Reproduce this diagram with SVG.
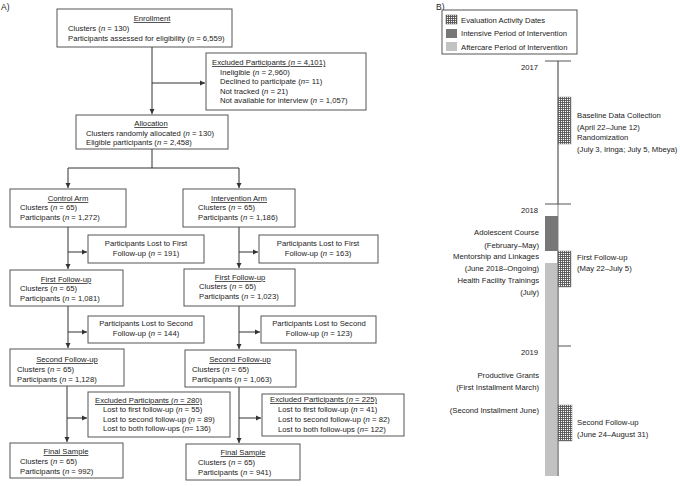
<svg xmlns="http://www.w3.org/2000/svg" width="680" height="486" viewBox="0 0 680 486">
<style>
text{font-family:"Liberation Sans",Arial,sans-serif;font-size:7.7px;fill:#222}
.c{text-anchor:middle}
.r{text-anchor:end}
.u{text-decoration:underline}
.i{font-style:italic}
.box{fill:#fff;stroke:#555;stroke-width:1}
.con{fill:none;stroke:#333;stroke-width:1}
.lab{font-size:8.5px}
</style>
<defs>
<marker id="ah" markerWidth="6" markerHeight="6" refX="5" refY="3" orient="auto" markerUnits="userSpaceOnUse">
<path d="M0,0.5 L5,3 L0,5.5 Z" fill="#333"/>
</marker>
<pattern id="grid" width="2" height="2" patternUnits="userSpaceOnUse">
<rect width="2" height="2" fill="#fff"/>
<path d="M0 0.5H2M0.5 0V2" stroke="#555" stroke-width="0.9"/>
</pattern>
</defs>
<rect width="680" height="486" fill="#fff"/>
<text class="lab" x="1" y="10">A)</text>
<text class="lab" x="436" y="10">B)</text>

<g id="connectors">
<path class="con" d="M152 47V114" marker-end="url(#ah)"/>
<path class="con" d="M152 83H205" marker-end="url(#ah)"/>
<path class="con" d="M152 149V168M68 168H239"/>
<path class="con" d="M68 168V188" marker-end="url(#ah)"/>
<path class="con" d="M239 168V188" marker-end="url(#ah)"/>
<path class="con" d="M68 227V269" marker-end="url(#ah)"/>
<path class="con" d="M68 252H87" marker-end="url(#ah)"/>
<path class="con" d="M239 227V268" marker-end="url(#ah)"/>
<path class="con" d="M239 252H258" marker-end="url(#ah)"/>
<path class="con" d="M68 306V348" marker-end="url(#ah)"/>
<path class="con" d="M68 332H87" marker-end="url(#ah)"/>
<path class="con" d="M239 306V349" marker-end="url(#ah)"/>
<path class="con" d="M239 332H260" marker-end="url(#ah)"/>
<path class="con" d="M67 386V442" marker-end="url(#ah)"/>
<path class="con" d="M67 418H87" marker-end="url(#ah)"/>
<path class="con" d="M239 387V443" marker-end="url(#ah)"/>
<path class="con" d="M239 418H261" marker-end="url(#ah)"/>
</g>

<g id="enrollment">
<rect class="box" x="57" y="9" width="175" height="38"/>
<text class="c u" x="152" y="21">Enrollment</text>
<text x="68" y="31">Clusters (<tspan class="i">n</tspan> = 130)</text>
<text x="68" y="41">Participants assessed for eligibility (<tspan class="i">n</tspan> = 6,559)</text>
</g>
<g id="excluded1">
<rect class="box" x="206" y="53" width="160" height="57"/>
<text class="u" x="212" y="65">Excluded Participants (<tspan class="i">n</tspan> = 4,101)</text>
<text x="220" y="75">Ineligible (<tspan class="i">n</tspan> = 2,960)</text>
<text x="220" y="84">Declined to participate (<tspan class="i">n</tspan>= 11)</text>
<text x="220" y="94">Not tracked (<tspan class="i">n</tspan> = 21)</text>
<text x="220" y="103">Not available for interview (<tspan class="i">n</tspan> = 1,057)</text>
</g>
<g id="allocation">
<rect class="box" x="76" y="115" width="152" height="34"/>
<text class="c u" x="151" y="126">Allocation</text>
<text x="86" y="136">Clusters randomly allocated (<tspan class="i">n</tspan> = 130)</text>
<text x="86" y="145">Eligible participants (<tspan class="i">n</tspan> = 2,458)</text>
</g>
<g id="control">
<rect class="box" x="10" y="189" width="116" height="38"/>
<text class="c u" x="68" y="201">Control Arm</text>
<text x="20" y="210">Clusters (<tspan class="i">n</tspan> = 65)</text>
<text x="20" y="220">Participants (<tspan class="i">n</tspan> = 1,272)</text>
</g>
<g id="intervention">
<rect class="box" x="183" y="189" width="112" height="38"/>
<text class="c u" x="239" y="201">Intervention Arm</text>
<text x="198" y="210">Clusters (<tspan class="i">n</tspan> = 65)</text>
<text x="198" y="220">Participants (<tspan class="i">n</tspan> = 1,186)</text>
</g>
<g id="lost1c">
<rect class="box" x="88" y="235" width="116" height="28"/>
<text class="c" x="146" y="246">Participants Lost to First</text>
<text class="c" x="146" y="256">Follow-up (<tspan class="i">n</tspan> = 191)</text>
</g>
<g id="lost1i">
<rect class="box" x="259" y="235" width="119" height="28"/>
<text class="c" x="318" y="246">Participants Lost to First</text>
<text class="c" x="318" y="256">Follow-up (<tspan class="i">n</tspan> = 163)</text>
</g>
<g id="ffc">
<rect class="box" x="10" y="270" width="113" height="36"/>
<text class="c u" x="66" y="282">First Follow-up</text>
<text x="20" y="291">Clusters (<tspan class="i">n</tspan> = 65)</text>
<text x="20" y="301">Participants (<tspan class="i">n</tspan> = 1,081)</text>
</g>
<g id="ffi">
<rect class="box" x="184" y="269" width="111" height="37"/>
<text class="c u" x="240" y="280">First Follow-up</text>
<text x="199" y="289">Clusters (<tspan class="i">n</tspan> = 65)</text>
<text x="199" y="299">Participants (<tspan class="i">n</tspan> = 1,023)</text>
</g>
<g id="lost2c">
<rect class="box" x="88" y="316" width="116" height="27"/>
<text class="c" x="146" y="326">Participants Lost to Second</text>
<text class="c" x="146" y="336">Follow-up (<tspan class="i">n</tspan> = 144)</text>
</g>
<g id="lost2i">
<rect class="box" x="261" y="316" width="115" height="27"/>
<text class="c" x="319" y="326">Participants Lost to Second</text>
<text class="c" x="319" y="336">Follow-up (<tspan class="i">n</tspan> = 123)</text>
</g>
<g id="sfc">
<rect class="box" x="10" y="349" width="114" height="37"/>
<text class="c u" x="67" y="362">Second Follow-up</text>
<text x="17" y="372">Clusters (<tspan class="i">n</tspan> = 65)</text>
<text x="17" y="382">Participants (<tspan class="i">n</tspan> = 1,128)</text>
</g>
<g id="sfi">
<rect class="box" x="185" y="350" width="111" height="37"/>
<text class="c u" x="240" y="362">Second Follow-up</text>
<text x="192" y="372">Clusters (<tspan class="i">n</tspan> = 65)</text>
<text x="192" y="382">Participants (<tspan class="i">n</tspan> = 1,063)</text>
</g>
<g id="exclc">
<rect class="box" x="88" y="392" width="142" height="45"/>
<text class="u" x="95" y="403">Excluded Participants (<tspan class="i">n</tspan> = 280)</text>
<text x="103" y="412">Lost to first follow-up (<tspan class="i">n</tspan> = 55)</text>
<text x="103" y="422">Lost to second follow-up (<tspan class="i">n</tspan> = 89)</text>
<text x="103" y="431">Lost to both follow-ups (<tspan class="i">n</tspan>= 136)</text>
</g>
<g id="excli">
<rect class="box" x="262" y="394" width="142" height="42"/>
<text class="u" x="270" y="402">Excluded Participants (<tspan class="i">n</tspan> = 225)</text>
<text x="278" y="412">Lost to first follow-up (<tspan class="i">n</tspan> = 41)</text>
<text x="278" y="422">Lost to second follow-up (<tspan class="i">n</tspan> = 82)</text>
<text x="278" y="432">Lost to both follow-ups (<tspan class="i">n</tspan>= 122)</text>
</g>
<g id="finc">
<rect class="box" x="10" y="443" width="113" height="35"/>
<text class="c u" x="66" y="454">Final Sample</text>
<text x="20" y="464">Clusters (<tspan class="i">n</tspan> = 65)</text>
<text x="20" y="474">Participants (<tspan class="i">n</tspan> = 992)</text>
</g>
<g id="fini">
<rect class="box" x="186" y="444" width="114" height="36"/>
<text class="c u" x="243" y="455">Final Sample</text>
<text x="198" y="465">Clusters (<tspan class="i">n</tspan> = 65)</text>
<text x="198" y="475">Participants (<tspan class="i">n</tspan> = 941)</text>
</g>

<g id="legend">
<rect class="box" x="442" y="10" width="135" height="44"/>
<rect x="446" y="15" width="11" height="9" fill="url(#grid)" stroke="#555" stroke-width="0.5"/>
<text x="461" y="23">Evaluation Activity Dates</text>
<rect x="446" y="29" width="11" height="9" fill="#777"/>
<text x="461" y="36">Intensive Period of Intervention</text>
<rect x="446" y="42" width="11" height="9" fill="#c2c2c2"/>
<text x="461" y="50">Aftercare Period of Intervention</text>
</g>

<g id="timeline">
<path d="M558 61V204" stroke="#555" stroke-width="1.2" fill="none"/>
<path d="M558 204V476" stroke="#999" stroke-width="1.2" fill="none"/>
<path d="M545 61H571M545 204H571M545 346H571" stroke="#555" stroke-width="1" fill="none"/>
<rect x="545" y="216" width="13" height="35" fill="#777"/>
<rect x="545" y="263" width="13" height="213" fill="#c2c2c2"/>
<path d="M558 251V476" stroke="#777" stroke-width="1" fill="none"/>
<rect x="558" y="97" width="13" height="47" fill="url(#grid)" stroke="#888" stroke-width="0.5"/>
<rect x="558" y="251" width="13" height="36" fill="url(#grid)" stroke="#888" stroke-width="0.5"/>
<rect x="558" y="405" width="14" height="36" fill="url(#grid)" stroke="#888" stroke-width="0.5"/>
<text class="r" x="538" y="70">2017</text>
<text class="r" x="538" y="213">2018</text>
<text class="r" x="538" y="355">2019</text>
<text x="577" y="118">Baseline Data Collection</text>
<text x="577" y="130">(April 22–June 12)</text>
<text x="577" y="140">Randomization</text>
<text x="577" y="152">(July 3, Iringa; July 5, Mbeya)</text>
<text x="577" y="260">First Follow-up</text>
<text x="577" y="271">(May 22–July 5)</text>
<text x="577" y="425">Second Follow-up</text>
<text x="577" y="437">(June 24–August 31)</text>
<text class="r" x="539" y="235">Adolescent Course</text>
<text class="r" x="539" y="248">(February–May)</text>
<text class="r" x="539" y="259">Mentorship and Linkages</text>
<text class="r" x="539" y="271">(June 2018–Ongoing)</text>
<text class="r" x="539" y="283">Health Facility Trainings</text>
<text class="r" x="539" y="295">(July)</text>
<text class="r" x="539" y="378">Productive Grants</text>
<text class="r" x="539" y="390">(First Installment March)</text>
<text class="r" x="539" y="413">(Second Installment June)</text>
</g>
</svg>
